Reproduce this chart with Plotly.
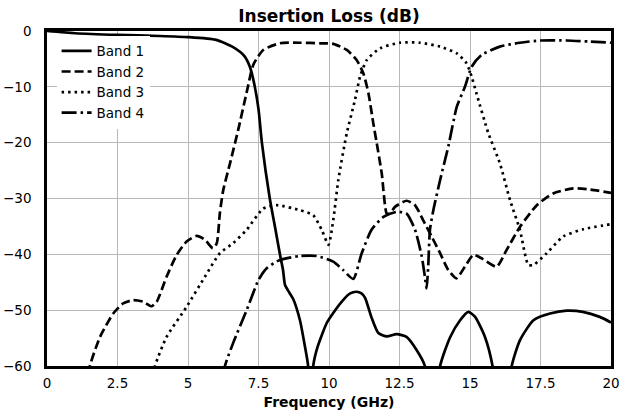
import plotly.graph_objects as go

# Frequency sweep (GHz) and insertion loss (dB) for each filter band
band1_freq = [0, 1, 2.5, 4, 5, 6, 6.6, 7.0, 7.2, 7.35, 7.5, 7.62, 7.9, 8.1, 8.26, 8.37, 8.44,
              8.55, 8.73, 8.97, 9.15, 9.26, 9.35, 9.44, 9.6, 9.92, 10.15, 10.5, 10.75, 10.98,
              11.15, 11.28, 11.5, 11.75, 12.05, 12.4, 12.75, 13.1, 13.4, 13.65, 13.94, 14.3,
              14.65, 14.94, 15.18, 15.53, 15.8, 16.15, 16.48, 16.77, 17.25, 17.84, 18.43,
              19.0, 19.6, 20]
band1_loss = [0, -0.4, -0.7, -0.9, -1.1, -1.6, -2.9, -4.5, -6.5, -9.5, -14, -20, -30, -35.5,
              -40, -42.8, -45.5, -46.5, -48, -51.8, -56.6, -60, -75, -60, -56.5, -52.3, -50.5,
              -48.2, -47.0, -46.7, -47.0, -47.8, -51.2, -54.1, -54.7, -54.3, -54.8, -57.1, -60,
              -75, -60, -54.8, -51.8, -50.3, -51.2, -54.8, -60, -75, -60, -55.4, -51.8, -50.6,
              -50.1, -50.3, -51.2, -52.2]

band2_freq = [1.3, 1.52, 1.88, 2.35, 2.7, 3.06, 3.42, 3.71, 3.89, 4.24, 4.6, 4.95, 5.31, 5.6,
              5.88, 6.02, 6.13, 6.25, 6.49, 6.78, 7.08, 7.32, 7.67, 8.26, 8.97, 9.68, 10.15,
              10.63, 10.98, 11.22, 11.4, 11.57, 11.69, 11.87, 12.05, 12.16, 12.34, 12.75, 13.05,
              13.34, 13.64, 13.94, 14.23, 14.52, 14.82, 15.12, 15.41, 15.94, 16.3, 16.77, 17.37,
              17.95, 18.66, 19.26, 20]
band2_loss = [-66, -60, -54.8, -50.6, -48.8, -48.2, -48.5, -49.3, -48.5, -44, -40.1, -37.7,
              -36.7, -37.4, -38.9, -38.0, -32.6, -28.5, -23.7, -17.7, -11, -6, -3.4, -2.2, -2.1,
              -2.2, -2.3, -3.4, -5.2, -7.6, -11.2, -16.5, -20, -25.5, -32.7, -32.7, -31.5,
              -30.4, -31.2, -33.9, -36.8, -39.8, -42.8, -44.3, -42.2, -40.1, -40.7, -42.2,
              -39.2, -35.1, -31.2, -29.1, -28.2, -28.4, -29.0]

band3_freq = [3.6, 3.83, 4.24, 4.95, 5.6, 6.13, 6.6, 7.08, 7.67, 8.15, 8.97, 9.44, 9.74, 9.98,
              10.15, 10.33, 10.63, 10.92, 11.1, 11.34, 11.81, 12.52, 13.23, 13.94, 14.53, 14.88,
              15.06, 15.23, 15.65, 16.06, 16.42, 16.77, 17.07, 17.25, 17.72, 18.31, 19.02, 20]
band3_loss = [-66, -60, -54.8, -49.4, -44, -39.8, -38, -35.6, -31.8, -31.2, -32.1, -33, -35.6,
              -38.3, -33.9, -26.7, -18.3, -12.4, -8.2, -5.2, -3.1, -2.1, -2.1, -2.8, -4.0, -5.8,
              -8.2, -11.2, -18.3, -23.7, -30.3, -35.6, -41.9, -41.9, -39.8, -36.8, -35.5, -34.6]

band4_freq = [6.1, 6.31, 6.6, 7.08, 7.5, 7.79, 8.26, 8.97, 9.56, 10.15, 10.5, 10.86, 11.16,
              11.51, 11.93, 12.4, 12.75, 13.05, 13.29, 13.4, 13.46, 13.52, 13.58, 13.7, 13.94,
              14.23, 14.53, 14.82, 15.06, 15.41, 16.06, 16.77, 17.48, 18.43, 19.26, 20]
band4_loss = [-66, -60, -55.9, -50, -44.6, -42.5, -41, -40.3, -40.3, -41.3, -42.8, -44.4,
              -39.8, -35.6, -33.3, -32.4, -32.7, -35.6, -40.4, -44, -46.1, -42, -35.6, -32.1,
              -26.7, -20.7, -13.6, -10.0, -6.4, -4.3, -2.8, -2.1, -1.7, -1.7, -1.9, -2.1]

band_names = ["Band 1", "Band 2", "Band 3", "Band 4"]
x_ticks = [0, 2.5, 5, 7.5, 10, 12.5, 15, 17.5, 20]
x_tick_text = ["0", "2.5", "5", "7.5", "10", "12.5", "15", "17.5", "20"]
y_ticks = [0, -10, -20, -30, -40, -50, -60]

series = [
    (band1_freq, band1_loss, "solid"),
    (band2_freq, band2_loss, "9px,4px"),
    (band3_freq, band3_loss, "2.5px,4px"),
    (band4_freq, band4_loss, "15px,4px,2.5px,4px"),
]

FONT = "DejaVu Sans"

fig = go.Figure()
for name, (fx, fy, dash) in zip(band_names, series):
    fig.add_trace(go.Scatter(
        x=fx, y=fy, name=name, mode="lines",
        line=dict(color="black", width=2.7, dash=dash, shape="spline", smoothing=0.6),
    ))

fig.update_layout(
    width=622, height=414,
    margin=dict(l=47, r=11, t=31, b=48),
    paper_bgcolor="white", plot_bgcolor="white",
    font=dict(family=FONT, size=13.5, color="black"),
    title=dict(text="<b>Insertion Loss (dB)</b>", x=0.5, xref="paper",
               y=1 - 16 / 414, yref="container", yanchor="middle",
               font=dict(family=FONT, size=17, color="black")),
    legend=dict(x=0.017, y=0.986, xanchor="left", yanchor="top",
                bgcolor="white", borderwidth=0,
                font=dict(family=FONT, size=13.5, color="black"),
                tracegroupgap=2),
    showlegend=True,
)
fig.update_xaxes(
    range=[0, 20], tickvals=x_ticks, ticktext=x_tick_text, automargin=False,
    showgrid=True, gridcolor="#b8b8b8", gridwidth=1, zeroline=False,
    showline=True, linecolor="black", linewidth=2.5, mirror=True,
    ticks="", ticklabelstandoff=3,
    tickfont=dict(family=FONT, size=13.5, color="black"),
    title=dict(text="<b>Frequency (GHz)</b>", standoff=8,
               font=dict(family=FONT, size=14, color="black")),
)
fig.update_yaxes(
    range=[-60, 0], tickvals=y_ticks, automargin=False,
    showgrid=True, gridcolor="#b8b8b8", gridwidth=1, zeroline=False,
    showline=True, linecolor="black", linewidth=2.5, mirror=True,
    ticks="", ticklabelstandoff=10,
    tickfont=dict(family=FONT, size=13.5, color="black"),
)

fig.write_html("out.html")
